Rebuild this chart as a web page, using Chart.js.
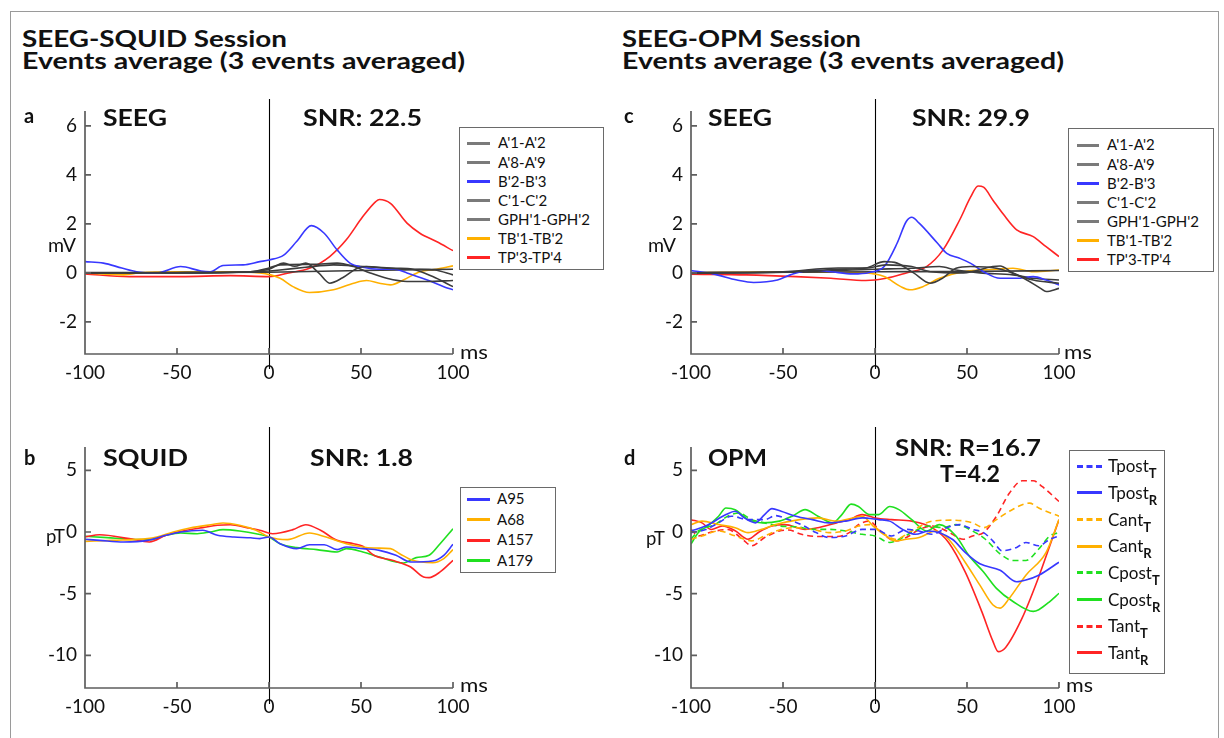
<!DOCTYPE html>
<html><head><meta charset="utf-8">
<script src="https://cdn.jsdelivr.net/npm/chart.js@4.4.0/dist/chart.umd.min.js"></script>
<style>
html,body{margin:0;padding:0;background:#fff;width:1224px;height:738px;overflow:hidden;position:relative;font-family:Lato,"Open Sans",sans-serif;}
canvas{position:absolute;}
.t{position:absolute;white-space:nowrap;line-height:1.2;color:#111;transform-origin:0 0;}
.frame{position:absolute;left:10px;top:11px;width:1207px;height:800px;border:1.5px solid #9a9a9a;}
.leg{position:absolute;border:1.5px solid #6a6a6a;background:#fff;box-sizing:border-box;}
.smp{position:absolute;height:0;}
</style></head><body>
<div class="frame"></div>
<canvas id="ca"></canvas>
<canvas id="cb"></canvas>
<canvas id="cc"></canvas>
<canvas id="cd"></canvas>
<script>
// ---------------- DATA ----------------
const timeTicks = [-100, -50, 0, 50, 100];
const seegTicks = [-2, 0, 2, 4, 6];
const megTicks = [-10, -5, 0, 5];
const seegLabels = ["A'1-A'2", "A'8-A'9", "B'2-B'3", "C'1-C'2", "GPH'1-GPH'2", "TB'1-TB'2", "TP'3-TP'4"];
const squidLabels = ["A95", "A68", "A157", "A179"];
const opmNames = ["Tpost", "Tpost", "Cant", "Cant", "Cpost", "Cpost", "Tant", "Tant"];
const opmSubs = ["T", "R", "T", "R", "T", "R", "T", "R"];

// Panel a: SEEG (SEEG-SQUID session), [ms, mV]
const aA1 = [[-100,0.02],[-50,0.0],[-10,0.05],[0,0.15],[8,0.4],[14,0.27],[20,0.4],[27,0.0],[33,-0.42],[40,-0.2],[48,0.19],[53,0.26],[64,0.19],[79,0.15],[90,0.12],[100,-0.08]];
const aA8 = [[-100,0],[-50,0.02],[-10,0.05],[0,0.2],[6,0.33],[24,0.35],[37,0.4],[46,0.26],[55,0],[64,-0.22],[75,-0.35],[86,-0.35],[100,-0.31]];
const aB2 = [[-100,0.46],[-90,0.4],[-80,0.2],[-72,0.05],[-61,0.0],[-48,0.26],[-37,0.08],[-32,0.05],[-25,0.3],[-14,0.33],[-5,0.46],[0,0.53],[8,0.73],[15,1.28],[23,1.93],[30,1.62],[37,0.94],[44,0.4],[51,0.23],[60,0.15],[68,0.15],[75,0],[86,-0.29],[95,-0.56],[100,-0.69]];
const aC1 = [[-100,0.0],[-50,0.0],[0,0.08],[6,0.12],[20,0.23],[35,0.33],[51,0.26],[69,0.19],[78,0.15],[89,-0.15],[100,-0.56]];
const aGPH = [[-100,0],[0,0.03],[50,0.1],[100,0.15]];
const aTB = [[-100,0],[-79,-0.08],[-70,0.01],[-50,0.05],[-21,0.05],[-5,0],[6,-0.22],[13,-0.56],[22,-0.8],[35,-0.69],[46,-0.42],[53,-0.31],[60,-0.42],[66,-0.49],[73,-0.29],[82,0.05],[91,0.15],[100,0.29]];
const aTP = [[-100,-0.04],[-76,-0.15],[-48,-0.15],[-21,-0.11],[0,-0.15],[10,-0.01],[22,0.19],[33,0.67],[42,1.35],[51,2.3],[58,2.91],[60,3.0],[66,2.84],[75,2.03],[82,1.62],[91,1.28],[100,0.91]];

// Panel b: SQUID, [ms, pT]
const bA95 = [[-100,-0.59],[-92,-0.68],[-79,-0.81],[-66,-0.68],[-56,-0.27],[-48,0],[-36,0.14],[-28,-0.27],[-19,-0.41],[-10,-0.47],[-5,-0.54],[0,-0.41],[6,-0.95],[15,-1.35],[22,-1.03],[30,-1.03],[37,-1.43],[42,-1.22],[51,-1.35],[60,-1.49],[69,-1.89],[77,-2.43],[89,-2.35],[95,-1.89],[100,-1.0]];
const bA68 = [[-100,-0.76],[-85,-0.68],[-66,-0.54],[-61,-0.41],[-52,0],[-43,0.32],[-30,0.62],[-25,0.73],[-16,0.54],[-7,0.14],[0,-0.41],[10,-0.62],[22,-0.08],[31,-0.41],[42,-0.95],[57,-1.3],[66,-1.35],[71,-1.76],[78,-2.3],[89,-2.49],[95,-2.16],[100,-1.43]];
const bA157 = [[-100,-0.41],[-92,-0.22],[-76,-0.54],[-65,-0.81],[-56,-0.27],[-45,0.14],[-36,0.35],[-28,0.54],[-21,0.59],[-12,0.35],[-5,0.14],[2,-0.14],[13,0.19],[20,0.59],[28,0.14],[37,-0.68],[46,-0.95],[51,-1.16],[57,-1.89],[67,-2.3],[77,-2.84],[84,-3.65],[87,-3.7],[93,-3.24],[100,-2.3]];
const bA179 = [[-100,-0.35],[-88,-0.46],[-76,-0.59],[-64,-0.62],[-56,-0.27],[-48,-0.08],[-39,-0.14],[-32,0],[-25,0.19],[-16,0.08],[-7,-0.14],[0,-0.41],[6,-0.95],[15,-1.27],[26,-1.43],[37,-1.62],[42,-1.35],[51,-1.62],[60,-2.03],[73,-2.51],[80,-2.08],[87,-1.89],[93,-0.95],[100,0.27]];

// Panel c: SEEG (SEEG-OPM session), [ms, mV]
const cA1 = [[-100,0],[-50,0.03],[-20,0.15],[-5,0.2],[5,0.46],[12,0.4],[21,0],[30,-0.42],[37,-0.2],[44,0.19],[52,0.26],[66,0.19],[79,-0.15],[90,-0.63],[93,-0.76],[100,-0.63]];
const cA8 = [[-100,-0.02],[-50,0.05],[-20,0.2],[-5,0.2],[6,0.33],[20,0.26],[30,0.05],[48,0],[64,0.26],[68,0.28],[75,0],[86,-0.29],[100,-0.42]];
const cB2 = [[-100,0.1],[-88,-0.04],[-75,-0.29],[-66,-0.39],[-53,-0.29],[-46,-0.08],[-34,0.12],[-24,0.05],[-12,-0.04],[-3,0.02],[5,0.26],[12,1.21],[17,2.1],[20,2.27],[24,2.03],[34,1.21],[39,0.8],[46,0.6],[52,0.39],[59,0.05],[68,-0.22],[77,-0.22],[86,-0.15],[93,-0.29],[100,-0.49]];
const cC1 = [[-100,0.02],[-50,0.03],[0,0.15],[20,0.19],[35,0.26],[44,0.12],[57,0],[75,-0.08],[86,-0.22],[100,-0.29]];
const cGPH = [[-100,0],[0,0.05],[50,0.06],[100,0.1]];
const cTB = [[-100,0],[-50,0.05],[-20,0.03],[-5,0],[5,-0.15],[14,-0.56],[19,-0.69],[26,-0.56],[35,-0.22],[48,0.05],[66,0.15],[75,0.19],[86,0.05],[100,0.12]];
const cTP = [[-100,-0.05],[-70,-0.08],[-43,-0.15],[-24,-0.22],[-5,-0.31],[6,-0.22],[17,0],[28,0.26],[37,0.94],[46,2.16],[52,3.1],[56,3.55],[59,3.5],[64,2.98],[70,2.37],[77,1.76],[86,1.48],[93,1.07],[100,0.67]];

// Panel d: OPM, [ms, pT]
const dTpostT = [[-100,-0.05],[-92,0.2],[-85,0.74],[-78,1.28],[-69,1.0],[-60,1.0],[-54,1.33],[-47,1.0],[-40,0.6],[-32,-0.05],[-25,-0.45],[-16,-0.32],[-7,0.21],[0,0.21],[9,-0.32],[17,0.21],[24,0.08],[31,-0.19],[39,0.35],[46,0.6],[53,0.21],[59,-0.05],[64,-0.72],[69,-1.52],[77,-1.25],[82,-0.85],[89,-1.12],[95,-0.59],[100,-0.32]];
const dTpostR = [[-100,0.08],[-92,0.48],[-81,1.41],[-76,1.68],[-71,1.14],[-65,0.74],[-60,1.41],[-56,1.89],[-51,1.68],[-43,1.28],[-34,1.0],[-25,0.74],[-16,0.88],[-7,1.14],[2,1.0],[8,0.88],[15,0.21],[22,-0.19],[29,0.08],[42,-0.59],[49,-1.65],[57,-2.58],[68,-3.11],[77,-4.04],[82,-3.9],[89,-3.51],[100,-2.45]];
const dCantT = [[-100,-0.59],[-94,-0.32],[-85,0.08],[-76,-0.32],[-67,-0.72],[-60,-0.32],[-52,0.16],[-43,0.35],[-34,0.21],[-25,-0.05],[-16,0.08],[-9,0.48],[-3,0.6],[4,-0.05],[11,-0.59],[20,0.08],[31,0.88],[42,0.96],[53,0.74],[59,0.35],[66,1.0],[73,1.68],[84,2.34],[89,1.94],[100,1.28]];
const dCantR = [[-100,0.6],[-94,0.88],[-85,0.6],[-76,0.35],[-69,-0.05],[-62,0.2],[-54,0.6],[-41,1.0],[-31,1.14],[-21,0.88],[-12,1.14],[-7,1.28],[-1,0.48],[6,-0.32],[11,-0.72],[17,-0.59],[24,-0.45],[33,0.08],[40,-0.59],[49,-2.45],[57,-4.31],[64,-5.9],[68,-6.17],[73,-5.37],[82,-3.5],[93,-1.65],[100,1.0]];
const dCpostT = [[-100,-0.59],[-96,0.08],[-87,0.6],[-80,1.28],[-74,1.54],[-67,1.0],[-60,0.74],[-52,0.48],[-43,0.43],[-34,0.21],[-25,0.21],[-16,0.08],[-7,-0.19],[0,-0.32],[8,-0.85],[13,-0.59],[20,-0.05],[29,0.48],[37,0.35],[44,0.6],[53,0.08],[60,-0.59],[68,-1.78],[75,-2.31],[82,-2.31],[89,-1.38],[95,-0.32],[100,-0.05]];
const dCpostR = [[-100,-0.98],[-96,-0.05],[-91,0.48],[-85,1.28],[-81,1.94],[-76,1.81],[-69,1.0],[-61,0.74],[-52,0.88],[-45,1.28],[-38,1.81],[-31,1.28],[-23,0.74],[-18,1.41],[-13,2.26],[-9,2.07],[-3,1.41],[2,1.41],[8,2.07],[13,1.81],[20,1.0],[28,0.08],[35,0.6],[44,-0.32],[51,-1.91],[59,-3.24],[66,-4.57],[75,-5.64],[86,-6.44],[89,-6.3],[95,-5.64],[100,-4.97]];
const dTantT = [[-100,0.21],[-96,-0.32],[-89,0.0],[-80,0.2],[-72,-0.59],[-67,-1.12],[-60,-0.45],[-52,0.08],[-47,0.16],[-40,-0.19],[-31,-0.37],[-21,-0.37],[-14,-0.05],[-9,0.6],[-3,0.88],[2,0.21],[11,-0.72],[17,-0.45],[24,0.2],[31,0.48],[39,0.08],[48,-0.59],[53,-0.32],[59,-0.05],[66,1.28],[73,3.14],[80,4.15],[86,4.15],[91,3.67],[100,2.47]];
const dTantR = [[-100,1.0],[-94,0.74],[-89,0.2],[-83,0.48],[-76,0.1],[-69,-0.59],[-63,0.0],[-56,0.48],[-49,0.6],[-38,0.21],[-31,0.35],[-21,0.74],[-14,1.0],[-7,1.41],[0,1.14],[9,1.0],[20,0.88],[31,0.35],[40,-0.85],[49,-3.24],[58,-6.44],[64,-8.83],[67,-9.7],[71,-9.36],[80,-6.97],[88,-4.04],[95,-1.12],[100,1.0]];

// ---------------- STYLE ----------------
const BLUE = '#3838ff', RED = '#ff2424', ORANGE = '#ffb000', GREEN = '#20e020', DARK = '#3c3c3c', LEGGREY = '#7a7a7a';
const FONT = 'Lato, "Open Sans", sans-serif';

function ds(label, arr, color, dash) {
  return { label, data: arr.map(p => ({ x: p[0], y: p[1] })), borderColor: color, borderWidth: 1.6,
    borderDash: dash ? [6, 4] : [], pointRadius: 0, fill: false, tension: 0.4, cubicInterpolationMode: 'monotone' };
}

const axisPlugin = {
  id: 'axisPlugin',
  beforeDatasetsDraw(chart, args, o) {
    const { ctx, chartArea: a, scales: { x } } = chart;
    const px = Math.round(x.getPixelForValue(0)) + 0.5;
    ctx.save(); ctx.strokeStyle = '#000'; ctx.lineWidth = 1.1;
    ctx.beginPath(); ctx.moveTo(px, a.top - o.up); ctx.lineTo(px, a.bottom + o.down); ctx.stroke();
    ctx.restore();
  },
  afterDatasetsDraw(chart) {
    const { ctx, chartArea: a, scales: { x, y } } = chart;
    ctx.save(); ctx.strokeStyle = '#5e5e5e'; ctx.lineWidth = 1.7;
    ctx.beginPath();
    ctx.moveTo(a.left, a.top); ctx.lineTo(a.left, a.bottom); ctx.lineTo(a.right, a.bottom);
    x.ticks.forEach(t => { const p = x.getPixelForValue(t.value); ctx.moveTo(p, a.bottom); ctx.lineTo(p, a.bottom - 6); });
    y.ticks.forEach(t => { const p = y.getPixelForValue(t.value); ctx.moveTo(a.left, p); ctx.lineTo(a.left + 6, p); });
    ctx.stroke(); ctx.restore();
  }
};

function makeChart(id, datasets, ymin, ymax, yticks, b, ext) {
  const cv = document.getElementById(id);
  cv.width = b.w; cv.height = b.h;
  cv.style.left = b.l + 'px'; cv.style.top = b.t + 'px';
  cv.style.width = b.w + 'px'; cv.style.height = b.h + 'px';
  return new Chart(cv, {
    type: 'line',
    data: { datasets },
    plugins: [axisPlugin],
    options: {
      responsive: false, animation: false, devicePixelRatio: 1,
      layout: { padding: { left: 0, top: b.aT - b.t, right: b.l + b.w - b.aR, bottom: 0 } },
      plugins: { legend: { display: false }, tooltip: { enabled: false }, axisPlugin: ext },
      scales: {
        x: { type: 'linear', min: -100, max: 100,
          afterBuildTicks: s => { s.ticks = timeTicks.map(v => ({ value: v })); },
          afterFit: s => { s.height = b.t + b.h - b.aB; },
          grid: { display: false, drawTicks: false }, border: { display: false },
          ticks: { color: '#111', font: { family: FONT, size: 19 }, padding: 7, maxRotation: 0, autoSkip: false } },
        y: { type: 'linear', min: ymin, max: ymax,
          afterBuildTicks: s => { s.ticks = yticks.map(v => ({ value: v })); },
          afterFit: s => { s.width = b.aL - b.l; },
          grid: { display: false, drawTicks: false }, border: { display: false },
          ticks: { color: '#111', font: { family: FONT, size: 19 }, padding: 8, autoSkip: false } }
      }
    }
  });
}

// ---------------- CHARTS ----------------
const colsSeeg = [DARK, DARK, BLUE, DARK, DARK, ORANGE, RED];
const legColsSeeg = [LEGGREY, LEGGREY, BLUE, LEGGREY, LEGGREY, ORANGE, RED];
const aSeries = [aA1, aA8, aB2, aC1, aGPH, aTB, aTP];
const cSeries = [cA1, cA8, cB2, cC1, cGPH, cTB, cTP];
const squidCols = [BLUE, ORANGE, RED, GREEN];
const bSeries = [bA95, bA68, bA157, bA179];
const opmCols = [BLUE, BLUE, ORANGE, ORANGE, GREEN, GREEN, RED, RED];
const dSeries = [dTpostT, dTpostR, dCantT, dCantR, dCpostT, dCpostR, dTantT, dTantR];

makeChart('ca', aSeries.map((s, i) => ds(seegLabels[i], s, colsSeeg[i])), -3.31, 6.61, seegTicks,
  { l: 0, t: 90, w: 615, h: 310, aL: 85, aR: 453, aT: 111, aB: 354 }, { up: 12, down: 15 });
makeChart('cb', bSeries.map((s, i) => ds(squidLabels[i], s, squidCols[i])), -12.65, 6.89, megTicks,
  { l: 0, t: 420, w: 615, h: 310, aL: 85, aR: 453, aT: 447, aB: 688 }, { up: 20, down: 16 });
makeChart('cc', cSeries.map((s, i) => ds(seegLabels[i], s, colsSeeg[i])), -3.31, 6.61, seegTicks,
  { l: 600, t: 90, w: 620, h: 310, aL: 691, aR: 1059, aT: 111, aB: 354 }, { up: 12, down: 15 });
makeChart('cd', dSeries.map((s, i) => ds(opmNames[i] + opmSubs[i], s, opmCols[i], opmSubs[i] === 'T')), -12.65, 6.89, megTicks,
  { l: 600, t: 420, w: 620, h: 310, aL: 691, aR: 1059, aT: 447, aB: 688 }, { up: 20, down: 16 });

// ---------------- TEXT ----------------
function txt(s, x, base, fs, bold, w, center) {
  const d = document.createElement('div');
  d.className = 't';
  d.style.left = x + 'px';
  d.style.fontSize = fs + 'px';
  d.style.fontWeight = bold ? '700' : '400';
  d.appendChild(document.createTextNode(s));
  const mk = document.createElement('span');
  mk.style.cssText = 'display:inline-block;width:0;height:0;vertical-align:baseline';
  d.appendChild(mk);
  document.body.appendChild(d);
  d.style.top = (base - mk.offsetTop) + 'px';
  const cw = d.getBoundingClientRect().width;
  if (w) d.style.transform = 'scaleX(' + (w / cw) + ')';
  if (center) d.style.left = (x - (w || cw) / 2) + 'px';
  return d;
}

txt('SEEG-SQUID Session', 22, 47, 22, true, 265);
txt('Events average (3 events averaged)', 22, 69, 22, true, 443);
txt('SEEG-OPM Session', 622, 47, 22, true, 239);
txt('Events average (3 events averaged)', 622, 69, 22, true, 442);

txt('a', 24, 123, 20, true);
txt('b', 24, 465, 20, true);
txt('c', 624, 123, 20, true);
txt('d', 624, 465, 20, true);

txt('SEEG', 103, 126, 23, true, 64);
txt('SNR: 22.5', 303, 126, 23, true, 119);
txt('SQUID', 103, 466, 23, true, 85);
txt('SNR: 1.8', 310, 466, 23, true, 103);
txt('SEEG', 708, 126, 23, true, 64);
txt('SNR: 29.9', 912, 126, 23, true, 118);
txt('OPM', 708, 466, 23, true, 59);
txt('SNR: R=16.7', 895, 456, 23, true, 146);
txt('T=4.2', 970, 482, 23, true, 60, true);

txt('mV', 48, 252, 19, false, 28);
txt('pT', 46, 543, 19, false, 19);
txt('mV', 648, 252, 19, false, 28);
txt('pT', 646, 545, 19, false, 19);
txt('ms', 460, 359, 20, false, 28);
txt('ms', 1064, 359, 20, false, 28);
txt('ms', 460, 692, 20, false, 28);
txt('ms', 1066, 692, 20, false, 27);

// ---------------- LEGENDS ----------------
function legend(box, items, o) {
  const lg = document.createElement('div');
  lg.className = 'leg';
  lg.style.left = box.l + 'px'; lg.style.top = box.t + 'px';
  lg.style.width = box.w + 'px'; lg.style.height = box.h + 'px';
  document.body.appendChild(lg);
  items.forEach((it, i) => {
    const cy = box.t + o.y0 + i * o.dy;
    const sm = document.createElement('div');
    sm.className = 'smp';
    sm.style.left = o.s0 + 'px'; sm.style.width = (o.s1 - o.s0) + 'px';
    sm.style.top = (cy - 1.5) + 'px';
    sm.style.borderTop = '3px ' + (it.dash ? 'dashed ' : 'solid ') + it.color;
    document.body.appendChild(sm);
    const d = txt(it.label, o.tx, cy + o.fs * 0.36, o.fs, false);
    if (it.sub) {
      const sb = document.createElement('span');
      sb.textContent = it.sub;
      sb.style.cssText = 'font-weight:700;font-size:' + o.subfs + 'px;position:relative;top:6px;';
      d.insertBefore(sb, d.lastChild);
    }
  });
}

legend({ l: 459, t: 127, w: 145, h: 143 }, seegLabels.map((l, i) => ({ label: l, color: legColsSeeg[i] })),
  { y0: 16, dy: 19.1, s0: 467, s1: 490, tx: 498, fs: 15 });
legend({ l: 1068, t: 128, w: 146, h: 144 }, seegLabels.map((l, i) => ({ label: l, color: legColsSeeg[i] })),
  { y0: 17, dy: 19.1, s0: 1077, s1: 1099, tx: 1107, fs: 15 });
legend({ l: 460, t: 487, w: 96, h: 86 }, squidLabels.map((l, i) => ({ label: l, color: squidCols[i] })),
  { y0: 12, dy: 20.5, s0: 467, s1: 490, tx: 497, fs: 15 });
legend({ l: 1069, t: 450, w: 96, h: 224 }, opmNames.map((l, i) => ({ label: l, sub: opmSubs[i], color: opmCols[i], dash: opmSubs[i] === 'T' })),
  { y0: 16, dy: 26.7, s0: 1077, s1: 1102, tx: 1108, fs: 17, subfs: 13 });
</script>
</body></html>
